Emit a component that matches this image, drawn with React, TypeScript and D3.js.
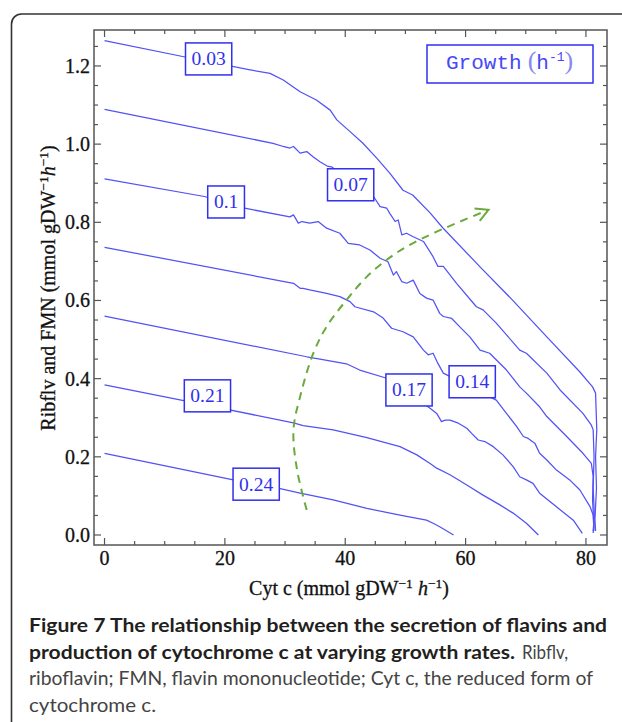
import * as d3 from "d3";

// growth rates (h^-1), one per curve, top to bottom
const growthLabels = ["0.03", "0.07", "0.1", "0.14", "0.17", "0.21", "0.24"];

// [Cyt c, Ribflv+FMN]
const g003: [number, number][] = [
  [0, 1.265], [14.0, 1.221], [24.2, 1.19], [27.5, 1.181], [29.7, 1.164], [32.5, 1.134],
  [35.2, 1.113], [37.5, 1.087], [38.6, 1.062], [40.8, 1.032], [42.9, 1.003], [45.2, 0.965],
  [47.4, 0.926], [49.6, 0.882], [51.2, 0.87], [54.1, 0.824], [56.2, 0.786], [62.4, 0.686],
  [67.8, 0.601], [73.5, 0.507], [79.0, 0.417], [81.1, 0.379], [81.6, 0.363], [81.8, 0.27],
  [81.6, 0.2], [81.75, 0.12], [81.5, 0.04], [81.6, 0.01],
];
const g007: [number, number][] = [
  [0, 1.089], [28.0, 1.002], [29.7, 0.994], [30.8, 0.99], [31.4, 0.994], [32.5, 0.977],
  [33.6, 0.981], [34.7, 0.967], [35.8, 0.955], [37.0, 0.944], [37.7, 0.942], [44.7, 0.866],
  [45.8, 0.84], [46.9, 0.836], [47.4, 0.823], [48.3, 0.802], [48.8, 0.806], [49.4, 0.768],
  [50.2, 0.772], [51.3, 0.763], [53.0, 0.751], [54.6, 0.712], [55.4, 0.687], [56.3, 0.687],
  [58.5, 0.644], [61.8, 0.584], [62.9, 0.576], [65.1, 0.542], [69.0, 0.473], [70.1, 0.465],
  [73.5, 0.414], [75.7, 0.371], [79.5, 0.311], [80.9, 0.281], [81.2, 0.269], [81.35, 0.2],
  [81.2, 0.12], [81.4, 0.05], [81.3, 0.01],
];
const g010: [number, number][] = [
  [0, 0.911], [16.6, 0.866], [23.3, 0.836], [30.8, 0.814], [31.4, 0.819], [32.2, 0.798],
  [32.8, 0.802], [34.1, 0.798], [35.5, 0.802], [36.9, 0.785], [39.1, 0.772], [40.5, 0.746],
  [42.4, 0.742], [44.1, 0.729], [45.8, 0.708], [47.1, 0.699], [48.0, 0.665], [48.5, 0.674],
  [49.4, 0.648], [50.2, 0.644], [51.3, 0.652], [52.4, 0.618], [53.5, 0.606], [54.6, 0.601],
  [55.7, 0.567], [56.3, 0.559], [57.7, 0.554], [59.0, 0.533], [60.7, 0.507], [62.4, 0.473],
  [64.0, 0.465], [66.8, 0.422], [69.0, 0.379], [70.1, 0.363], [72.3, 0.328], [73.5, 0.303],
  [76.8, 0.252], [79.5, 0.209], [80.9, 0.183], [81.2, 0.15], [81.1, 0.09], [81.3, 0.03],
  [81.2, 0.01],
];
const g014: [number, number][] = [
  [0, 0.736], [31.4, 0.644], [32.5, 0.631], [33.0, 0.631], [34.1, 0.627], [36.9, 0.618],
  [39.1, 0.61], [40.8, 0.597], [41.6, 0.584], [44.7, 0.571], [46.3, 0.555], [47.7, 0.529],
  [49.6, 0.52], [51.3, 0.507], [53.0, 0.473], [53.8, 0.461], [54.6, 0.465], [55.4, 0.439],
  [56.3, 0.414], [65.1, 0.345], [68.5, 0.277], [69.6, 0.252], [70.4, 0.247], [71.5, 0.235],
  [72.3, 0.209], [73.5, 0.192], [75.1, 0.166], [77.3, 0.141], [79.0, 0.115], [80.7, 0.072],
  [81.2, 0.051], [81.3, 0.02], [81.2, 0.005],
];
const g017: [number, number][] = [
  [0, 0.56], [33.6, 0.456], [35.8, 0.45], [40.2, 0.438], [42.4, 0.422], [46.9, 0.401],
  [54.1, 0.324], [55.2, 0.311], [56.0, 0.29], [56.6, 0.294], [57.4, 0.294], [58.8, 0.286],
  [60.2, 0.273], [61.0, 0.26], [62.1, 0.243], [63.2, 0.239], [64.6, 0.226], [66.2, 0.205],
  [67.9, 0.175], [69.0, 0.149], [70.1, 0.141], [71.2, 0.132], [72.3, 0.107], [75.1, 0.072],
  [77.9, 0.038], [79.4, 0.004],
];
const g021: [number, number][] = [
  [0, 0.384], [14.0, 0.341], [31.4, 0.287], [33.0, 0.28], [38.0, 0.269], [43.6, 0.249],
  [49.1, 0.226], [51.9, 0.205], [54.1, 0.183], [55.2, 0.171], [57.4, 0.154], [60.2, 0.128],
  [62.9, 0.102], [65.7, 0.077], [67.9, 0.056], [70.1, 0.03], [72.1, 0.0],
];
const g024: [number, number][] = [
  [0, 0.209], [21.4, 0.141], [29.0, 0.119], [32.5, 0.107], [38.0, 0.09], [43.6, 0.068],
  [49.1, 0.051], [53.5, 0.038], [54.6, 0.03], [55.7, 0.021], [58.0, 0.0],
];
const curves = [g003, g007, g010, g014, g017, g021, g024];

// label box centres, data units
const labelX = [17.3, 40.9, 20.2, 61.1, 50.6, 17.1, 25.2];
const labelY = [1.218, 0.896, 0.852, 0.392, 0.371, 0.356, 0.13];

// green "increasing growth" arrow, data units
const arrowPts: [number, number][] = [
  [33.6, 0.064], [32.0, 0.166], [31.4, 0.269], [32.5, 0.354], [34.7, 0.465], [36.9, 0.533],
  [40.2, 0.601], [43.6, 0.661], [46.9, 0.704], [50.2, 0.738], [55.2, 0.776], [63.8, 0.832],
];

const xMajor = [0, 20, 40, 60, 80];
const yMajor = [0, 0.2, 0.4, 0.6, 0.8, 1.0, 1.2];
const xMinor = d3.range(0, 81, 5);
const yMinor = d3.range(0, 1.26, 0.05);

const W = 622, H = 722;
const serif = "'Liberation Serif', 'Times New Roman', serif";
const sans = "Lato, 'Open Sans', sans-serif";

export default function App() {
  const left = 94, right = 607, top = 30, bottom = 545;
  const x = d3.scaleLinear().domain([-1.75, 83.5]).range([left, right]);
  const y = d3.scaleLinear().domain([-0.0256, 1.292]).range([bottom, top]);

  const line = d3.line<[number, number]>().x(d => x(d[0])).y(d => y(d[1]));
  const arc = d3.line<[number, number]>().x(d => x(d[0])).y(d => y(d[1])).curve(d3.curveCatmullRom);

  // arrow head direction from last segment
  const a1 = arrowPts[arrowPts.length - 2], a2 = arrowPts[arrowPts.length - 1];
  const tipX = x(a2[0]), tipY = y(a2[1]);
  const ang = Math.atan2(tipY - y(a1[1]), tipX - x(a1[0]));
  const barb = (da: number) => [tipX - 14 * Math.cos(ang + da), tipY - 14 * Math.sin(ang + da)];
  const b1 = barb(0.5), b2 = barb(-0.5);

  const frame = "#555";
  const blue = "#5252f6";
  const labelBlue = "#3030ee";

  const textW = (s: string) => s.split("").reduce((w, c) => w + (c === "." ? 0.25 : 0.5), 0) * 19;

  return (
    <svg width={W} height={H} style={{ position: "absolute", left: 0, top: 0, background: "#fff" }}>
      <rect x={11.5} y={14} width={640} height={740} rx={10} fill="none" stroke="#333" strokeWidth={1.6} />

      {/* curves */}
      {curves.map((c, i) => (
        <path key={i} d={line(c) ?? ""} fill="none" stroke={blue} strokeWidth={1.25} strokeLinejoin="round" />
      ))}

      {/* growth arrow */}
      <path d={arc(arrowPts) ?? ""} fill="none" stroke="#6aaa3c" strokeWidth={2} strokeDasharray="8,6" />
      <path d={`M${b1[0]},${b1[1]}L${tipX},${tipY}L${b2[0]},${b2[1]}`} fill="none" stroke="#6aaa3c" strokeWidth={2} />

      {/* curve labels */}
      {growthLabels.map((s, i) => {
        const w = textW(s) + 13;
        const cx = x(labelX[i]), cy = y(labelY[i]);
        return (
          <g key={s}>
            <rect x={cx - w / 2} y={cy - 16} width={w} height={32} fill="#fff" stroke={labelBlue} strokeWidth={1.5} />
            <text x={cx} y={cy + 6.5} textAnchor="middle" fontFamily={serif} fontSize={19.5} fill={labelBlue}>{s}</text>
          </g>
        );
      })}

      {/* frame and ticks */}
      <rect x={left} y={top} width={right - left} height={bottom - top} fill="none" stroke={frame} strokeWidth={1.5} />
      {xMinor.map(v => {
        const len = xMajor.includes(v) ? 7 : 4;
        return (
          <g key={"x" + v} stroke={frame} strokeWidth={1.2}>
            <line x1={x(v)} x2={x(v)} y1={bottom} y2={bottom - len} />
            <line x1={x(v)} x2={x(v)} y1={top} y2={top + len} />
          </g>
        );
      })}
      {yMinor.map(v => {
        const major = yMajor.some(m => Math.abs(m - v) < 1e-6);
        const len = major ? 7 : 4;
        return (
          <g key={"y" + v} stroke={frame} strokeWidth={1.2}>
            <line x1={left} x2={left + len} y1={y(v)} y2={y(v)} />
            <line x1={right} x2={right - len} y1={y(v)} y2={y(v)} />
          </g>
        );
      })}
      <g fontFamily={serif} fontSize={20} fill="#111" stroke="#111" strokeWidth={0.3}>
        {xMajor.map(v => (
          <text key={"xl" + v} x={x(v)} y={565} textAnchor="middle">{v}</text>
        ))}
        {yMajor.map(v => (
          <text key={"yl" + v} x={90} y={y(v) + 7} textAnchor="end">{v.toFixed(1)}</text>
        ))}

        {/* axis titles */}
        <text x={349} y={595} textAnchor="middle">
          Cyt c (mmol gDW<tspan dy={-7} fontSize={13.5}>−1</tspan>
          <tspan dy={7}> </tspan><tspan fontStyle="italic">h</tspan>
          <tspan dy={-7} fontSize={13.5}>−1</tspan><tspan dy={7}>)</tspan>
        </text>
        <text transform="translate(55,288) rotate(-90)" textAnchor="middle">
          Ribflv and FMN (mmol gDW<tspan dy={-7} fontSize={13.5}>−1</tspan>
          <tspan dy={7} fontStyle="italic">h</tspan>
          <tspan dy={-7} fontSize={13.5}>−1</tspan><tspan dy={7}>)</tspan>
        </text>
      </g>

      {/* legend */}
      <rect x={427} y={45} width={166} height={38} fill="#fff" stroke={labelBlue} strokeWidth={1.5} />
      <text x={446} y={69} fontFamily="'Liberation Mono', 'Courier New', monospace" fontSize={21} fill="#4848f8">
        Growth
        <tspan dx={6} fontSize={26} fill="#8888ee" fontFamily={serif}>(</tspan>
        <tspan>h</tspan>
        <tspan dy={-8} fontSize={13}>-1</tspan>
        <tspan dy={8} fontSize={26} fill="#8888ee" fontFamily={serif}>)</tspan>
      </text>

      {/* caption */}
      <g fontFamily={sans} fontSize={19}>
        <text x={29} y={632} fontWeight={700} fill="#231f20" textLength={578} lengthAdjust="spacingAndGlyphs">
          Figure 7 The relationship between the secretion of flavins and
        </text>
        <text x={29} y={658.5} fontWeight={700} fill="#231f20" textLength={486} lengthAdjust="spacingAndGlyphs">
          production of cytochrome c at varying growth rates.
        </text>
        <text x={522} y={658.5} fill="#444" textLength={46} lengthAdjust="spacingAndGlyphs">Ribflv,</text>
        <text x={29} y={685} fill="#444" textLength={564} lengthAdjust="spacingAndGlyphs">
          riboflavin; FMN, flavin mononucleotide; Cyt c, the reduced form of
        </text>
        <text x={29} y={711.5} fill="#444" textLength={127} lengthAdjust="spacingAndGlyphs">cytochrome c.</text>
      </g>
    </svg>
  );
}
